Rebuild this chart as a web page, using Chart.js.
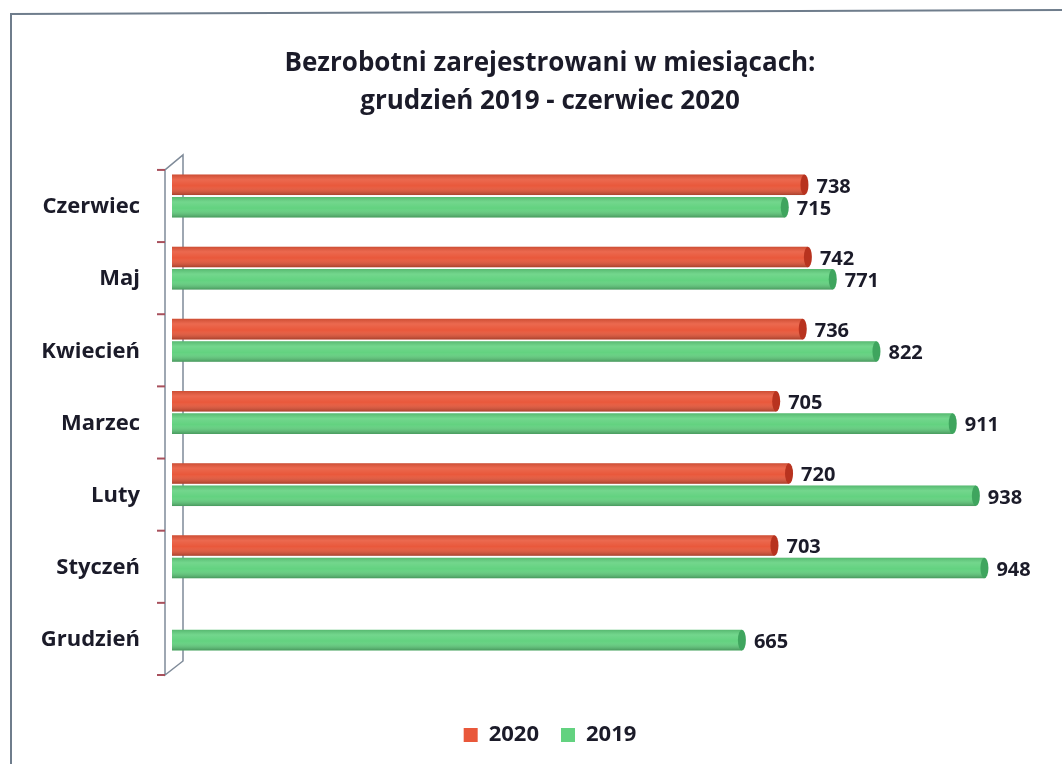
<!DOCTYPE html>
<html>
<head>
<meta charset="utf-8">
<script src="https://cdn.jsdelivr.net/npm/chart.js@4/dist/chart.umd.min.js"></script>
<style>
  html, body { margin: 0; padding: 0; background: #ffffff; overflow: hidden; }
  #wrap { position: relative; width: 1062px; height: 764px; }
</style>
</head>
<body>
<div id="wrap"><canvas id="c"></canvas></div>
<script>
const titleLines = ['Bezrobotni zarejestrowani w miesiącach:', 'grudzień 2019 - czerwiec 2020'];
const categories = ['Czerwiec', 'Maj', 'Kwiecień', 'Marzec', 'Luty', 'Styczeń', 'Grudzień'];
const seriesNames = ['2020', '2019'];
const values2020 = [738, 742, 736, 705, 720, 703, null];
const values2019 = [715, 771, 822, 911, 938, 948, 665];

const RED = '#e9583b';
const GREEN = '#63d280';
const CAP_RED = '#b8331f';
const CAP_GREEN = '#3fa55e';
const TEXT = '#1b1b29';
const FONT = '"Open Sans", Lato, sans-serif';

const framePlugin = {
  id: 'frame',
  beforeDraw(chart) {
    const ctx = chart.ctx;
    ctx.save();
    ctx.fillStyle = '#ffffff';
    ctx.fillRect(0, 0, chart.width, chart.height);
    ctx.strokeStyle = '#6f7d8c';
    ctx.lineWidth = 2;
    ctx.beginPath();
    ctx.moveTo(1062, 10);
    ctx.lineTo(11, 14);
    ctx.lineTo(11, 764);
    ctx.stroke();
    ctx.restore();
  }
};

const wallPlugin = {
  id: 'wall',
  beforeDatasetsDraw(chart) {
    const ctx = chart.ctx;
    const ys = chart.scales.y;
    const left = chart.chartArea.left;
    const top = ys.top, bottom = ys.bottom;
    const n = categories.length;
    const band = (bottom - top) / n;
    const fx = left - 7, bx = left + 11;
    ctx.save();
    ctx.strokeStyle = '#7f8b99';
    ctx.lineWidth = 1.5;
    ctx.beginPath();
    ctx.moveTo(fx, top + 10);
    ctx.lineTo(fx, bottom + 10);
    ctx.lineTo(bx, bottom - 4);
    ctx.lineTo(bx, top - 5);
    ctx.lineTo(fx, top + 10);
    ctx.stroke();
    ctx.strokeStyle = '#a8505c';
    ctx.lineWidth = 2;
    for (let i = 0; i <= n; i++) {
      const y = top + i * band + 10;
      ctx.beginPath();
      ctx.moveTo(fx - 8, y);
      ctx.lineTo(fx, y);
      ctx.stroke();
    }
    ctx.restore();
  }
};

const shadePlugin = {
  id: 'shade',
  afterDatasetsDraw(chart) {
    const ctx = chart.ctx;
    ctx.save();
    chart.data.datasets.forEach((ds, di) => {
      const meta = chart.getDatasetMeta(di);
      if (meta.hidden) return;
      meta.data.forEach((el, i) => {
        if (ds.data[i] == null) return;
        const p = el.getProps(['x', 'y', 'base', 'height'], true);
        const t = p.y - p.height / 2;
        const g = ctx.createLinearGradient(0, t, 0, t + p.height);
        g.addColorStop(0, 'rgba(0,0,0,0.12)');
        g.addColorStop(0.25, 'rgba(255,255,255,0.10)');
        g.addColorStop(0.55, 'rgba(255,255,255,0)');
        g.addColorStop(1, 'rgba(0,0,0,0.28)');
        ctx.fillStyle = g;
        ctx.fillRect(p.base, t, p.x - p.base, p.height);
        ctx.fillStyle = di === 0 ? CAP_RED : CAP_GREEN;
        ctx.beginPath();
        ctx.ellipse(p.x, p.y, 4, p.height / 2, 0, 0, Math.PI * 2);
        ctx.fill();
        ctx.fillStyle = TEXT;
        ctx.font = 'bold 20px ' + FONT;
        ctx.textAlign = 'left';
        ctx.textBaseline = 'middle';
        ctx.fillText(String(ds.data[i]), p.x + 12, p.y + 2);
      });
    });
    ctx.restore();
  }
};

new Chart(document.getElementById('c'), {
  type: 'bar',
  data: {
    labels: categories,
    datasets: [
      { label: seriesNames[0], data: values2020, backgroundColor: RED, borderWidth: 0 },
      { label: seriesNames[1], data: values2019, backgroundColor: GREEN, borderWidth: 0 }
    ]
  },
  options: {
    indexAxis: 'y',
    responsive: true,
    maintainAspectRatio: false,
    animation: false,
    categoryPercentage: 0.62,
    barPercentage: 0.92,
    layout: { padding: { left: 71, right: 33, top: 0, bottom: 8 } },
    scales: {
      x: {
        min: 0, max: 1000,
        ticks: { display: false },
        grid: { display: false, drawTicks: false },
        border: { display: false },
        afterFit(s) { s.height = 37; }
      },
      y: {
        grid: { display: false, drawTicks: false },
        border: { display: false },
        ticks: {
          color: TEXT,
          font: { family: FONT, weight: 'bold', size: 22 },
          padding: 32,
          labelOffset: 11
        },
        afterFit(s) {
          s.width = 101;
          // let the category labels extend into the left padding without clipping
          s._computeLabelArea = function () { return undefined; };
        }
      }
    },
    plugins: {
      title: {
        display: true,
        text: titleLines,
        color: TEXT,
        font: { family: FONT, weight: 'bold', size: 26, lineHeight: 1.46 },
        padding: { top: 45, bottom: 39 }
      },
      legend: {
        position: 'bottom',
        labels: {
          color: TEXT,
          font: { family: FONT, weight: 'bold', size: 22 },
          boxWidth: 14,
          boxHeight: 14,
          padding: 22
        }
      },
      tooltip: { enabled: false }
    }
  },
  plugins: [framePlugin, wallPlugin, shadePlugin]
});
</script>
</body>
</html>
